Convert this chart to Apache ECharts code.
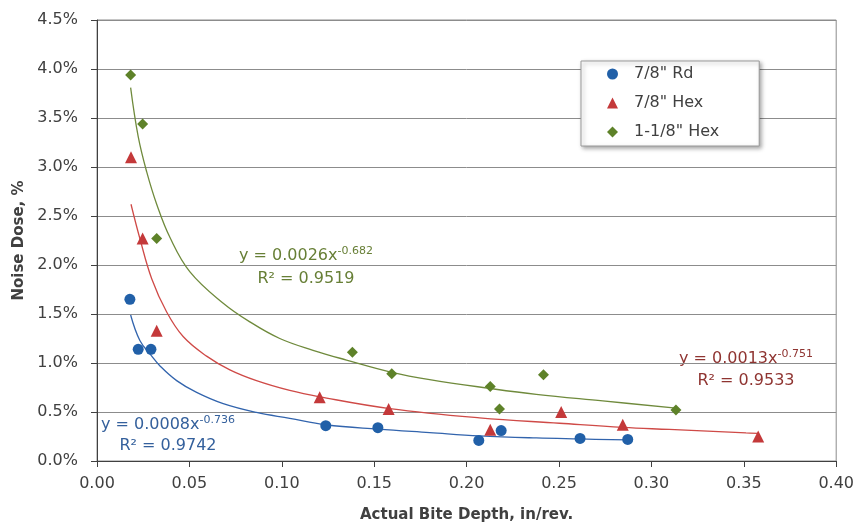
<!DOCTYPE html>
<html lang="en">
<head>
  <meta charset="UTF-8">
  <title>Noise Dose vs Actual Bite Depth</title>
  <script src="https://cdn.jsdelivr.net/npm/echarts@6/dist/echarts.min.js"></script>
</head>
<body style="margin: 0; background: #fff;">
<div id="main" style="width: 857px; height: 528px;"></div>
<script type="text/javascript">
  // measured points: x = actual bite depth (in/rev), y = noise dose (%)
  const seriesNames = ['7/8" Rd', '7/8" Hex', '1-1/8" Hex']

  const rdX = [0.0178, 0.0223, 0.0292, 0.1238, 0.152, 0.2066, 0.2187, 0.2614, 0.2872]
  const rdY = [1.65, 1.14, 1.14, 0.36, 0.34, 0.21, 0.31, 0.23, 0.22]

  const hexX = [0.0184, 0.0247, 0.0323, 0.1205, 0.1578, 0.2128, 0.2512, 0.2845, 0.3578]
  const hexY = [3.10, 2.27, 1.33, 0.65, 0.53, 0.32, 0.50, 0.37, 0.25]

  const bigX = [0.0182, 0.0247, 0.0323, 0.1382, 0.1595, 0.2128, 0.2178, 0.2416, 0.3133]
  const bigY = [3.94, 3.44, 2.27, 1.11, 0.89, 0.76, 0.53, 0.88, 0.52]

  // power trendlines as drawn in the picture
  const rdTrendX = [0.0182, 0.0232, 0.0292, 0.0341, 0.0431, 0.0539, 0.0683, 0.0863, 0.1043, 0.1238, 0.152, 0.18, 0.207, 0.2377, 0.261, 0.2872]
  const rdTrendY = [1.49, 1.23, 1.08, 0.97, 0.82, 0.70, 0.585, 0.495, 0.435, 0.37, 0.325, 0.29, 0.257, 0.235, 0.225, 0.215]

  const hexTrendX = [0.0184, 0.0232, 0.0296, 0.0377, 0.0466, 0.0593, 0.0719, 0.0863, 0.1043, 0.1205, 0.1584, 0.207, 0.2503, 0.2845, 0.3097, 0.3512, 0.3578]
  const hexTrendY = [2.62, 2.27, 1.86, 1.52, 1.27, 1.07, 0.93, 0.82, 0.72, 0.655, 0.535, 0.44, 0.385, 0.343, 0.322, 0.287, 0.282]

  const bigTrendX = [0.0182, 0.0223, 0.0269, 0.0323, 0.0395, 0.0503, 0.0683, 0.0827, 0.0989, 0.1169, 0.135, 0.1595, 0.18, 0.2128, 0.2377, 0.2737, 0.3133]
  const bigTrendY = [3.81, 3.31, 2.95, 2.62, 2.28, 1.93, 1.61, 1.42, 1.25, 1.13, 1.03, 0.905, 0.83, 0.74, 0.68, 0.613, 0.54]

  // trendline equations printed on the chart
  const eqCoef = ['0.0008', '0.0013', '0.0026']
  const eqExp = ['-0.736', '-0.751', '-0.682']
  const eqR2 = ['0.9742', '0.9533', '0.9519']

  const font = 'DejaVu Sans'
  const textColor = '#404040'
  const markerColors = ['#2160a8', '#c4393a', '#5e8229']
  const lineColors = ['#3264ad', '#cf4a47', '#6f8a3c']
  const labelColors = ['#34609c', '#8f3431', '#677f36']
  const symbols = ['circle', 'triangle', 'diamond']
  const symbolSizes = [11, 12, 11]

  const zip = (xs, ys) => xs.map((x, i) => [x, ys[i]])
  const points = [zip(rdX, rdY), zip(hexX, hexY), zip(bigX, bigY)]
  const trends = [zip(rdTrendX, rdTrendY), zip(hexTrendX, hexTrendY), zip(bigTrendX, bigTrendY)]

  const myChart = echarts.init(document.getElementById('main'))

  const series = []
  trends.forEach((data, i) => {
    series.push({
      name: 'trend ' + i,
      type: 'line',
      data: data,
      smooth: 0.4,
      showSymbol: false,
      silent: true,
      lineStyle: {color: lineColors[i], width: 1.3},
      z: 2
    })
  })
  points.forEach((data, i) => {
    series.push({
      name: seriesNames[i],
      type: 'scatter',
      data: data,
      symbol: symbols[i],
      symbolSize: symbolSizes[i],
      itemStyle: {color: markerColors[i], opacity: 1},
      z: 5
    })
  })

  // equation labels, one per trendline
  const labelPos = [[168, 425, 446], [746, 359, 381], [306, 256, 279]]
  const graphic = []
  labelPos.forEach(([cx, y1, y2], i) => {
    graphic.push({
      type: 'text',
      x: cx, y: y1,
      style: {
        text: '{m|y = ' + eqCoef[i] + 'x}{s|' + eqExp[i] + '}',
        align: 'center',
        verticalAlign: 'middle',
        fill: labelColors[i],
        rich: {
          m: {fontFamily: font, fontSize: 16, lineHeight: 20, fill: labelColors[i], color: labelColors[i]},
          s: {fontFamily: font, fontSize: 11, verticalAlign: 'top', fill: labelColors[i], color: labelColors[i]}
        }
      }
    })
    graphic.push({
      type: 'text',
      x: cx, y: y2,
      style: {
        text: 'R² = ' + eqR2[i],
        align: 'center',
        verticalAlign: 'middle',
        fill: labelColors[i],
        font: '16px "' + font + '"'
      }
    })
  })

  const option = {
    animation: false,
    backgroundColor: '#ffffff',
    grid: {
      left: 97,
      right: 20,
      top: 20,
      bottom: 65,
      show: true,
      borderColor: '#8c8c8c',
      borderWidth: 1
    },
    legend: {
      data: seriesNames,
      orient: 'vertical',
      left: 581,
      top: 61,
      itemWidth: 11,
      itemHeight: 11,
      itemGap: 11,
      padding: [4, 40, 5, 26],
      backgroundColor: '#ffffff',
      borderColor: '#9a9a9a',
      borderWidth: 1,
      shadowColor: 'rgba(0,0,0,0.35)',
      shadowBlur: 4,
      shadowOffsetX: 2,
      shadowOffsetY: 2,
      formatter: name => '{t|' + name + '}',
      textStyle: {
        fontFamily: font, fontSize: 16, color: textColor, lineHeight: 18,
        rich: {t: {fontFamily: font, fontSize: 16, color: textColor, lineHeight: 18, padding: [0, 0, 0, 11]}}
      }
    },
    xAxis: {
      type: 'value',
      min: 0,
      max: 0.4,
      interval: 0.05,
      name: 'Actual Bite Depth, in/rev.',
      nameLocation: 'middle',
      nameGap: 47,
      nameTextStyle: {fontFamily: font, fontSize: 15, fontWeight: 'bold', color: textColor},
      axisLine: {show: true, lineStyle: {color: textColor, width: 1}},
      axisTick: {show: true, length: 6, lineStyle: {color: textColor}},
      axisLabel: {
        margin: 15,
        fontFamily: font,
        fontSize: 16,
        color: textColor,
        formatter: v => v.toFixed(2)
      },
      splitLine: {show: false}
    },
    yAxis: {
      type: 'value',
      min: 0,
      max: 4.5,
      interval: 0.5,
      name: 'Noise Dose, %',
      nameLocation: 'middle',
      nameRotate: 90,
      nameGap: 66,
      nameTextStyle: {fontFamily: font, fontSize: 15, fontWeight: 'bold', color: textColor},
      axisLine: {show: true, lineStyle: {color: textColor, width: 1}},
      axisTick: {show: true, length: 6, lineStyle: {color: textColor}},
      axisLabel: {
        margin: 19,
        fontFamily: font,
        fontSize: 16,
        color: textColor,
        formatter: v => v.toFixed(1) + '%'
      },
      splitLine: {show: true, lineStyle: {color: '#8c8c8c', width: 1}}
    },
    graphic: graphic,
    series: series
  }

  myChart.setOption(option)
</script>
</body>
</html>
